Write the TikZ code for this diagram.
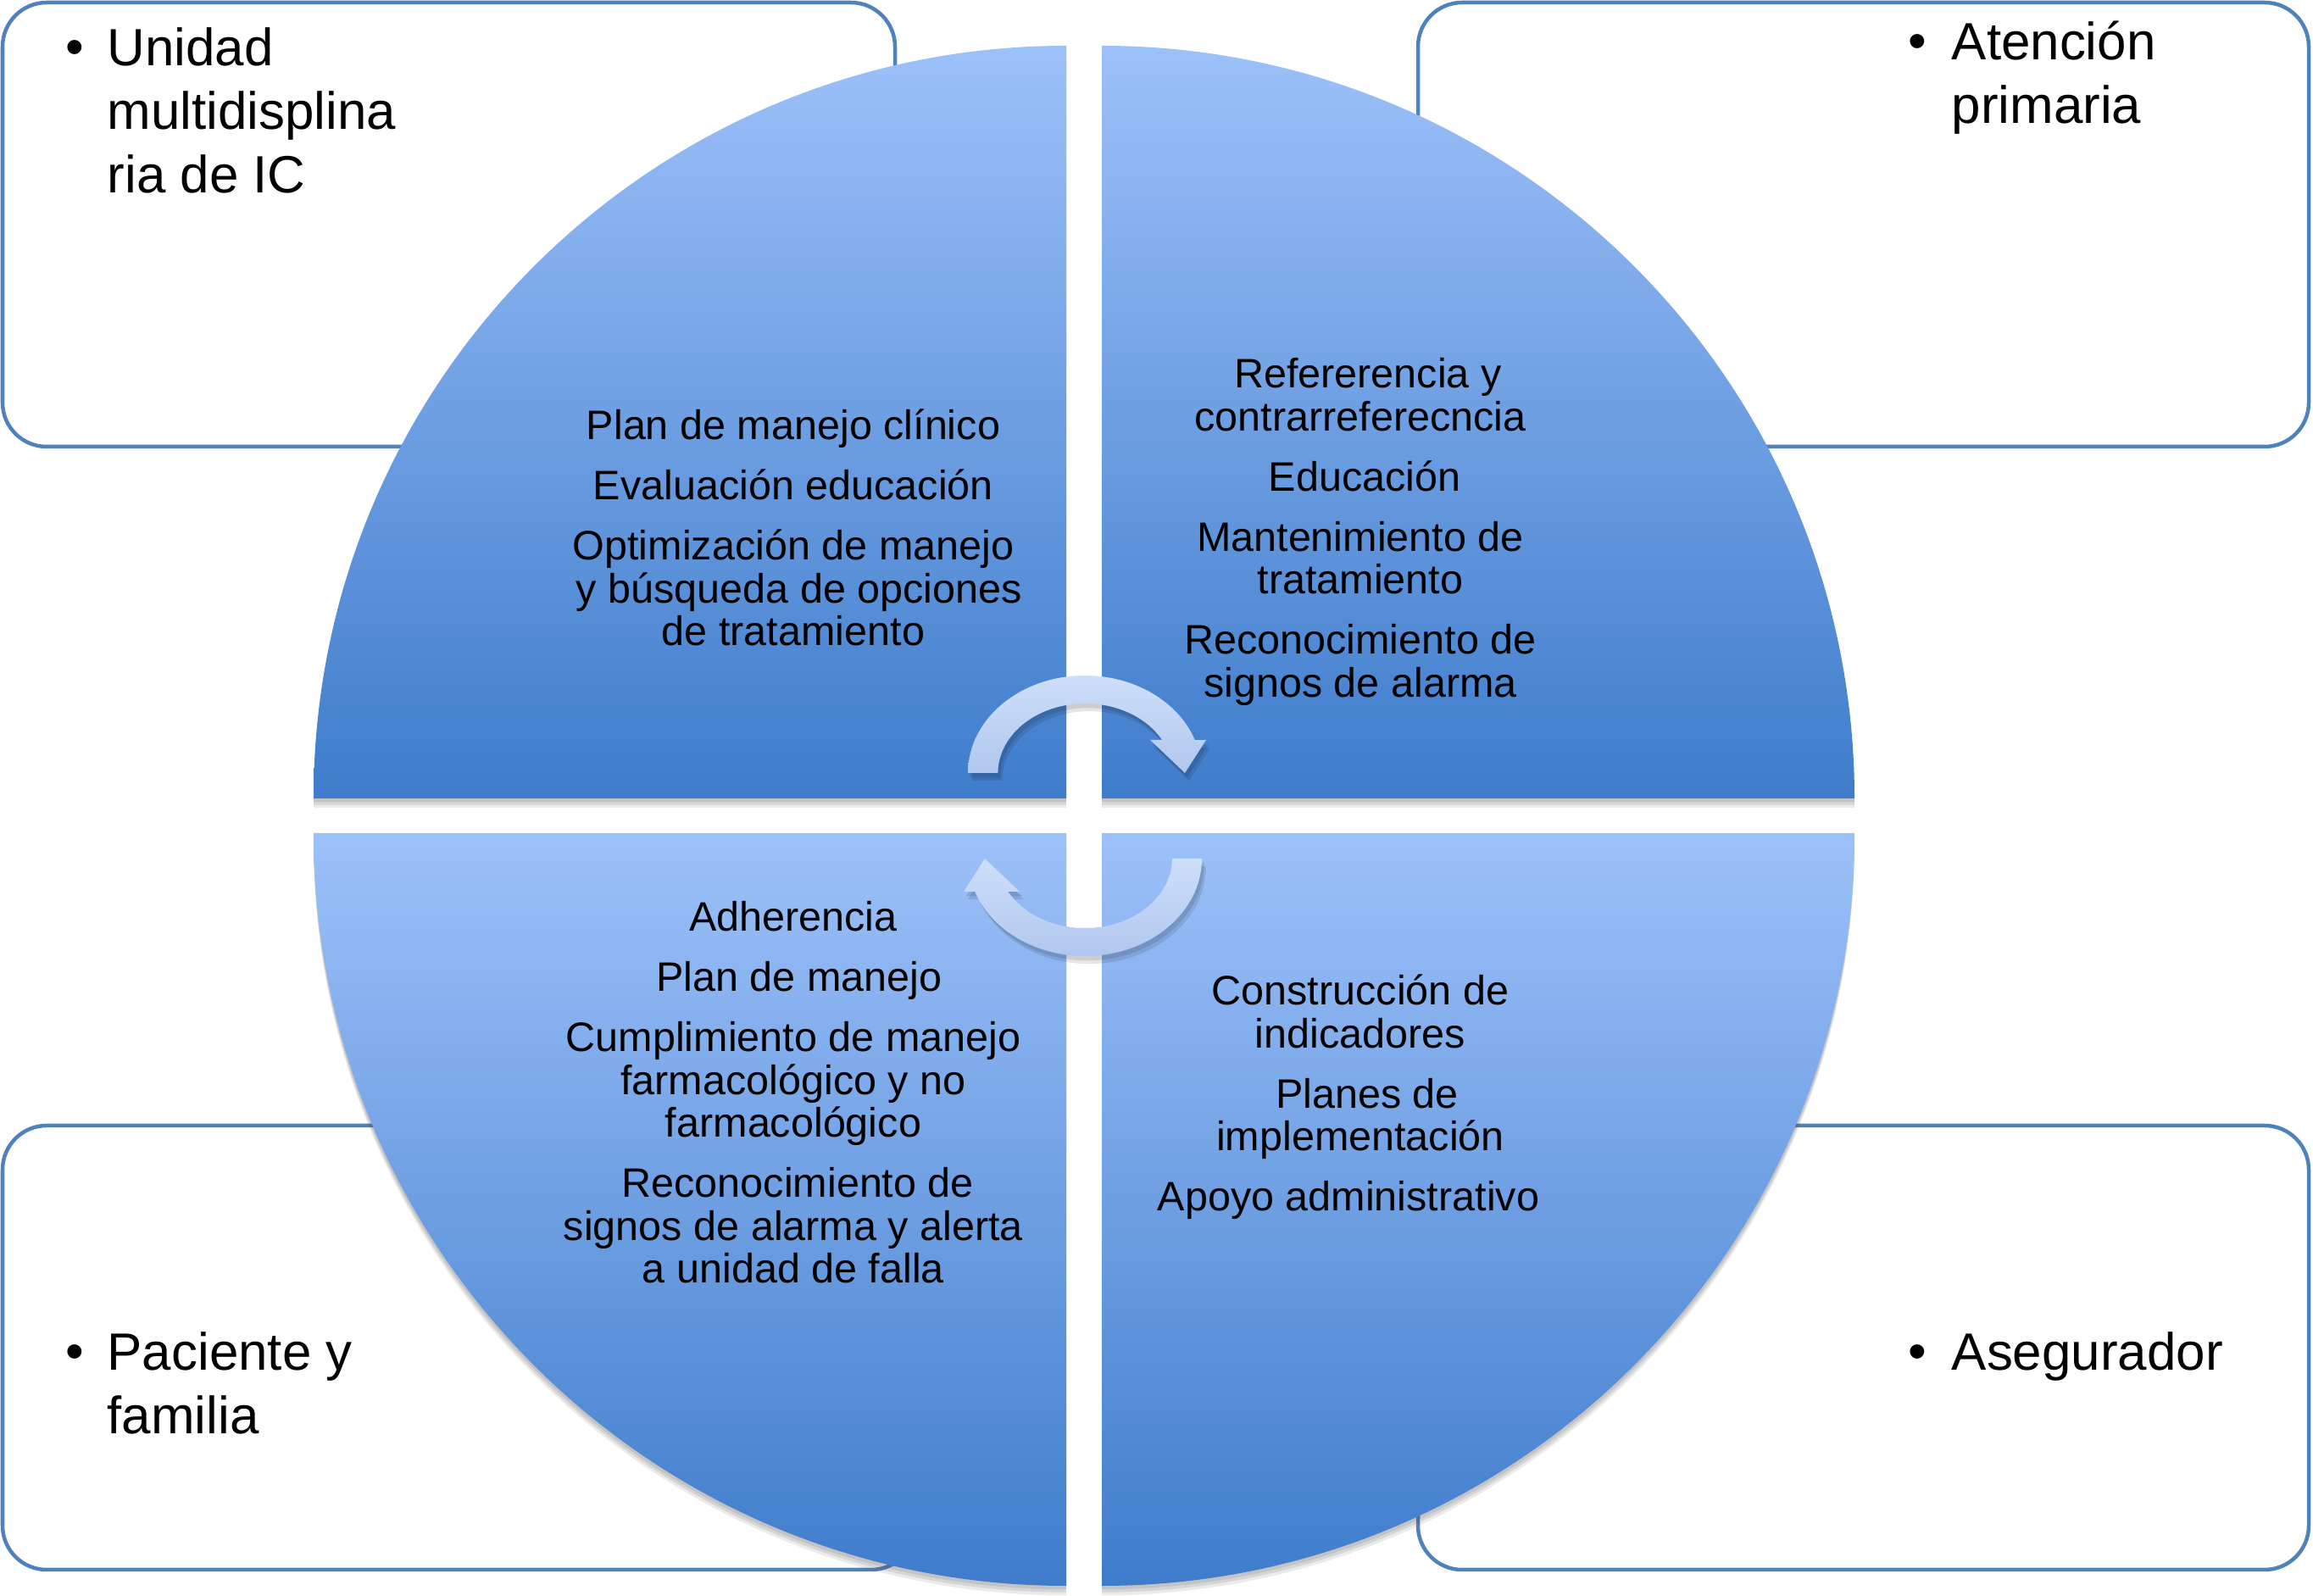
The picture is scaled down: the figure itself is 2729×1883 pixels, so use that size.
\documentclass[tikz,border=0pt]{standalone}
\usepackage{fontspec}
\setmainfont{Liberation Sans}
\definecolor{boxblue}{RGB}{79,129,189}
\definecolor{qlight}{RGB}{157,193,249}
\definecolor{qdark}{RGB}{62,124,203}
\definecolor{alight}{RGB}{206,223,250}
\definecolor{adark}{RGB}{176,199,238}
\newcommand\qs{\rule{0pt}{13pt}}
\newcommand\ls{\rule{0pt}{14pt}}
\begin{document}
\begin{tikzpicture}[x=0.01cm,y=0.01cm,
  box/.style={draw=boxblue, line width=1.28pt, fill=white, rounded corners=14.8pt},
  qshadow/.style={
    preaction={fill=black!70, fill opacity=0.13, transform canvas={yshift=-1.2pt}},
    preaction={fill=black!70, fill opacity=0.13, transform canvas={yshift=-2.2pt}},
    preaction={fill=black!70, fill opacity=0.11, transform canvas={yshift=-3.2pt}}},
  quad/.style={qshadow, top color=qlight, bottom color=qdark},
  arrowshape/.style={
    preaction={fill=black, fill opacity=0.10, transform canvas={shift={(0.8pt,-1.5pt)}}},
    preaction={fill=black, fill opacity=0.10, transform canvas={shift={(1.4pt,-2.6pt)}}},
    top color=alight, bottom color=adark},
  qtext/.style={align=center, inner sep=0pt, anchor=north, font=\fontsize{13.8}{14.37}\selectfont},
  lbl/.style={align=left, inner sep=0pt, anchor=north west, font=\fontsize{17.6}{21.3}\selectfont},
  bul/.style={anchor=base, inner sep=0pt, font=\fontsize{17.6}{21.3}\selectfont}]
\useasboundingbox (0,0) rectangle (2729,-1883);
\fill[white] (0,0) rectangle (2729,-1883);

% outer boxes
\draw[box] (3,-3) rectangle (1056,-527);
\draw[box] (1673,-3) rectangle (2724,-527);
\draw[box] (3,-1328) rectangle (1080,-1852);
\draw[box] (1673,-1328) rectangle (2724,-1852);

% box labels
\node[bul] (tlb) at (88,-77) {•};
\node[lbl] (tllbl) at (126,-27.8) {\ls Unidad\\multidisplina\\ria de IC};
\node[bul] (trb) at (2262,-70) {•};
\node[lbl] (trlbl) at (2302,-20.8) {\ls Atención\\primaria};
\node[bul] (blb) at (88,-1616) {•};
\node[lbl] (bllbl) at (126,-1566.8) {\ls Paciente y\\familia};
\node[bul] (brb) at (2262,-1616) {•};
\node[lbl] (brlbl) at (2302,-1566.8) {\ls Asegurador};

% quadrants
\path[quad] (1258,-942) -- (370,-942) arc[start angle=180,end angle=90,radius=888] -- cycle;
\path[quad] (1300,-942) -- (1300,-54) arc[start angle=90,end angle=0,radius=888] -- cycle;
\path[quad] (1258,-983) -- (1258,-1871) arc[start angle=270,end angle=180,radius=888] -- cycle;
\path[quad] (1300,-983) -- (2188,-983) arc[start angle=0,end angle=-90,radius=888] -- cycle;

% quadrant texts
\node[qtext] (tltxt) at (936,-472.3) {\qs Plan de manejo clínico\\[5.8pt]
  Evaluación educación\\[5.8pt]
  Optimización de manejo\\ \hspace*{4pt}y búsqueda de opciones\\ de tratamiento};
\node[qtext] (trtxt) at (1605,-411.3) {\qs\hspace*{5pt}Refererencia y\\ contrarreferecncia\\[5.8pt]
  \hspace*{3pt}Educación\\[5.8pt]
  Mantenimiento de\\ tratamiento\\[5.8pt]
  Reconocimiento de\\ signos de alarma};
\node[qtext] (bltxt) at (936,-1052.3) {\qs Adherencia\\[5.8pt]
  \hspace*{4pt}Plan de manejo\\[5.8pt]
  Cumplimiento de manejo\\ farmacológico y no\\ farmacológico\hspace*{7.5pt}\\[5.8pt]
  \hspace*{3pt}Reconocimiento de\\ signos de alarma y alerta\\ a unidad de falla};
\node[qtext] (brtxt) at (1605,-1139.3) {\qs Construcción de\\ indicadores\\[5.8pt]
  \hspace*{4.5pt}Planes de\\ implementación\\[5.8pt]
  Apoyo administrativo\hspace*{8pt}};

% circular arrows
\path[arrowshape] (1142,-912) arc[start angle=180,end angle=19.8,x radius=138,y radius=115]
  -- (1423,-873) -- (1398,-912) -- (1357,-873) -- (1371,-873)
  arc[start angle=28.4,end angle=180,x radius=103,y radius=82] -- cycle;
\path[arrowshape] (1418,-1013) arc[start angle=0,end angle=-160.2,x radius=138,y radius=115]
  -- (1137,-1052) -- (1162,-1013) -- (1203,-1052) -- (1189.4,-1052)
  arc[start angle=-151.6,end angle=0,x radius=103,y radius=82] -- cycle;
\end{tikzpicture}
\end{document}
